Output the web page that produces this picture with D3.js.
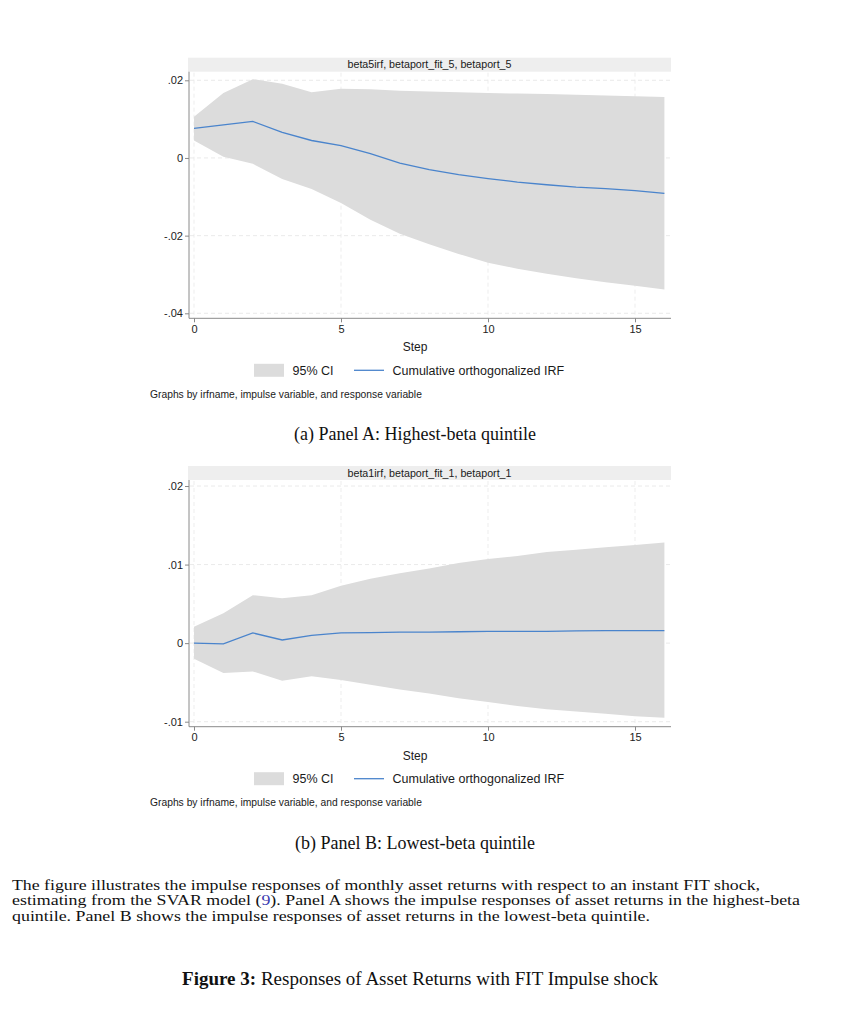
<!DOCTYPE html>
<html>
<head>
<meta charset="utf-8">
<script src="https://cdn.jsdelivr.net/npm/d3@7"></script>
<style>
  body { margin: 0; background: #fff; }
  text { font-family: "Liberation Sans", Arial, sans-serif; }
  .serif { font-family: "Liberation Serif", "Times New Roman", serif; }
</style>
</head>
<body>
<svg width="843" height="1024"></svg>
<script>
// steps of the impulse response
const steps = [0, 1, 2, 3, 4, 5, 6, 7, 8, 9, 10, 11, 12, 13, 14, 15, 16];
const xTicks = [0, 5, 10, 15];

// Panel A: highest-beta quintile
const panelATitle = "beta5irf, betaport_fit_5, betaport_5";
const panelAIrf = [0.0076, 0.0085, 0.0094, 0.0066, 0.0045, 0.0032, 0.0011, -0.0013, -0.0030, -0.0043,
  -0.0053, -0.0062, -0.0069, -0.0075, -0.0079, -0.0084, -0.0091];
const panelAUpper = [0.0106, 0.0167, 0.0203, 0.0191, 0.0169, 0.0178, 0.0177, 0.0173, 0.0171, 0.0169,
  0.0167, 0.0166, 0.0165, 0.0163, 0.0161, 0.0159, 0.0157];
const panelALower = [0.0045, 0.0003, -0.0015, -0.0054, -0.0080, -0.0116, -0.0159, -0.0195, -0.0222, -0.0247,
  -0.0270, -0.0285, -0.0298, -0.0310, -0.0320, -0.0329, -0.0339];
const panelAYTicks = [-0.04, -0.02, 0, 0.02];
const panelAYLabels = ["-.04", "-.02", "0", ".02"];

// Panel B: lowest-beta quintile
const panelBTitle = "beta1irf, betaport_fit_1, betaport_1";
const panelBIrf = [0.0000, -0.0001, 0.0013, 0.0004, 0.0010, 0.0013, 0.00135, 0.0014, 0.0014, 0.00145,
  0.0015, 0.0015, 0.0015, 0.00155, 0.0016, 0.0016, 0.0016];
const panelBUpper = [0.0021, 0.0038, 0.0061, 0.0057, 0.0061, 0.0073, 0.0082, 0.0089, 0.0095, 0.0102,
  0.0107, 0.0111, 0.0116, 0.0119, 0.0122, 0.0125, 0.0128];
const panelBLower = [-0.0020, -0.0038, -0.0036, -0.0048, -0.0042, -0.0047, -0.0053, -0.0059, -0.0064, -0.0070,
  -0.0075, -0.0080, -0.0084, -0.0087, -0.0090, -0.0093, -0.0095];
const panelBYTicks = [-0.01, 0, 0.01, 0.02];
const panelBYLabels = ["-.01", "0", ".01", ".02"];

const legendLabels = ["95% CI", "Cumulative orthogonalized IRF"];
const noteText = "Graphs by irfname, impulse variable, and response variable";

let svg = d3.select("svg");

let x = d3.scaleLinear().domain([0, 15]).range([194, 635]);

function drawPanel(p) {
  let g = svg.append("g");
  let y = d3.scaleLinear().domain(p.yDomain).range(p.yRange);
  let left = 189, right = 671, axisY = p.axisY;

  // title strip
  g.append("rect")
    .attr("x", 188).attr("y", p.stripTop)
    .attr("width", right - 188).attr("height", 14)
    .attr("fill", "#eeeeee");
  g.append("text")
    .attr("x", 429.5).attr("y", p.stripTop + 10.7)
    .attr("text-anchor", "middle")
    .style("font-size", "10.7px")
    .attr("fill", "#1a1a1a")
    .text(p.title);

  // grid
  g.append("g").selectAll("line")
    .data(p.yTicks)
    .enter()
    .append("line")
    .attr("x1", left + 1).attr("x2", right)
    .attr("y1", (d) => y(d)).attr("y2", (d) => y(d))
    .attr("stroke", "#e4e4e4")
    .attr("stroke-width", 0.8)
    .attr("stroke-dasharray", "4,3");
  g.append("g").selectAll("line")
    .data(xTicks)
    .enter()
    .append("line")
    .attr("x1", (d) => x(d)).attr("x2", (d) => x(d))
    .attr("y1", p.stripTop + 15).attr("y2", axisY)
    .attr("stroke", "#e8e8e8")
    .attr("stroke-width", 0.8)
    .attr("stroke-dasharray", "4,3");

  // confidence band
  let area = d3.area()
    .x((d) => x(d))
    .y0((d, i) => y(p.lower[i]))
    .y1((d, i) => y(p.upper[i]));
  g.append("path")
    .datum(steps)
    .attr("d", area)
    .attr("fill", "#dcdcdc");

  // irf line
  let line = d3.line()
    .x((d) => x(d))
    .y((d, i) => y(p.irf[i]));
  g.append("path")
    .datum(steps)
    .attr("d", line)
    .attr("fill", "none")
    .attr("stroke", "#4a84cc")
    .attr("stroke-width", 1.3);

  // y axis
  let yAxis = d3.axisLeft(y)
    .tickValues(p.yTicks)
    .tickFormat((d, i) => p.yLabels[i])
    .tickSize(4)
    .tickPadding(2);
  let ya = g.append("g")
    .attr("transform", "translate(" + left + ",0)")
    .call(yAxis);
  ya.select(".domain").remove();
  ya.append("line")
    .attr("x1", 0).attr("x2", 0)
    .attr("y1", p.stripTop + 14).attr("y2", axisY)
    .attr("stroke", "#8a8a8a");

  // x axis
  let xAxis = d3.axisBottom(x)
    .tickValues(xTicks)
    .tickSize(4)
    .tickPadding(3);
  let xa = g.append("g")
    .attr("transform", "translate(0," + axisY + ")")
    .call(xAxis);
  xa.select(".domain").remove();
  xa.append("line")
    .attr("x1", left).attr("x2", right)
    .attr("stroke", "#8a8a8a");

  g.selectAll(".tick line").attr("stroke", "#8a8a8a");
  g.selectAll(".tick text")
    .style("font-family", "'Liberation Sans', Arial, sans-serif")
    .style("font-size", "11px")
    .attr("fill", "#222");

  // axis title
  g.append("text")
    .attr("x", 415).attr("y", axisY + 33)
    .attr("text-anchor", "middle")
    .style("font-size", "12px")
    .attr("fill", "#1a1a1a")
    .text("Step");

  // legend
  let ly = axisY + 52;
  g.append("rect")
    .attr("x", 254).attr("y", ly - 6.5)
    .attr("width", 30).attr("height", 13)
    .attr("fill", "#dcdcdc");
  g.append("text")
    .attr("x", 292.5).attr("y", ly + 4.5)
    .style("font-size", "12.5px")
    .attr("fill", "#1a1a1a")
    .text(legendLabels[0]);
  g.append("line")
    .attr("x1", 354).attr("x2", 384)
    .attr("y1", ly).attr("y2", ly)
    .attr("stroke", "#4a84cc")
    .attr("stroke-width", 1.3);
  g.append("text")
    .attr("x", 392.5).attr("y", ly + 4.5)
    .style("font-size", "12.5px")
    .attr("fill", "#1a1a1a")
    .text(legendLabels[1]);

  // note
  g.append("text")
    .attr("x", 150).attr("y", axisY + 79.5)
    .style("font-size", "10.3px")
    .attr("fill", "#1a1a1a")
    .text(noteText);

  // sub caption
  let cap = g.append("text")
    .attr("class", "serif")
    .attr("x", 415).attr("y", axisY + 122)
    .attr("text-anchor", "middle")
    .style("font-size", "18px")
    .attr("fill", "#111");
  cap.append("tspan").text(p.capLabel);
  cap.append("tspan").text(" " + p.caption);
}

drawPanel({
  title: panelATitle, irf: panelAIrf, upper: panelAUpper, lower: panelALower,
  yTicks: panelAYTicks, yLabels: panelAYLabels,
  yDomain: [-0.04, 0.02], yRange: [313.3, 80.3],
  stripTop: 57.7, axisY: 318.3,
  capLabel: "(a)", caption: "Panel A: Highest-beta quintile"
});

drawPanel({
  title: panelBTitle, irf: panelBIrf, upper: panelBUpper, lower: panelBLower,
  yTicks: panelBYTicks, yLabels: panelBYLabels,
  yDomain: [-0.01, 0.02], yRange: [721.7, 486],
  stripTop: 466, axisY: 726.7,
  capLabel: "(b)", caption: "Panel B: Lowest-beta quintile"
});

// figure notes
let para = svg.append("g")
  .style("font-size", "14px")
  .attr("fill", "#111");
para.append("text").attr("class", "serif").attr("x", 12).attr("y", 889.5)
  .attr("textLength", 748).attr("lengthAdjust", "spacingAndGlyphs")
  .text("The figure illustrates the impulse responses of monthly asset returns with respect to an instant FIT shock,");
let l2 = para.append("text").attr("class", "serif").attr("x", 12).attr("y", 905.2)
  .attr("textLength", 788).attr("lengthAdjust", "spacingAndGlyphs");
l2.append("tspan").text("estimating from the SVAR model (");
l2.append("tspan").attr("fill", "#3a3ab0").text("9");
l2.append("tspan").text("). Panel A shows the impulse responses of asset returns in the highest-beta");
para.append("text").attr("class", "serif").attr("x", 12).attr("y", 920.9)
  .attr("textLength", 638).attr("lengthAdjust", "spacingAndGlyphs")
  .text("quintile. Panel B shows the impulse responses of asset returns in the lowest-beta quintile.");

let fig = svg.append("text")
  .attr("class", "serif")
  .attr("x", 420).attr("y", 985)
  .attr("text-anchor", "middle")
  .style("font-size", "19px")
  .attr("fill", "#111");
fig.append("tspan").style("font-weight", "bold").text("Figure 3:");
fig.append("tspan").text(" Responses of Asset Returns with FIT Impulse shock");
</script>
</body>
</html>
